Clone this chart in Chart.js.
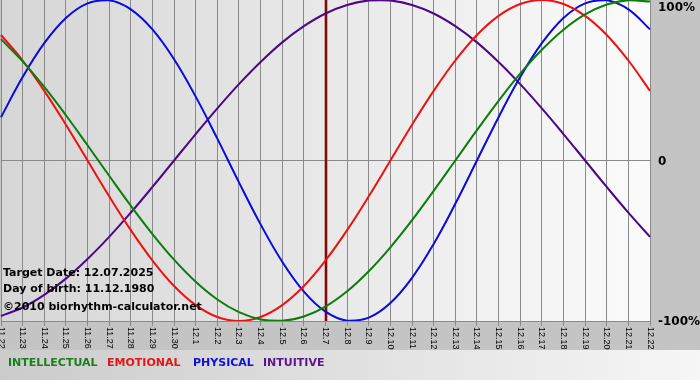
<!DOCTYPE html>
<html><head><meta charset="utf-8">
<script src="https://cdn.jsdelivr.net/npm/chart.js@4.4.1/dist/chart.umd.min.js"></script>
<style>html,body{margin:0;padding:0;background:#fff;overflow:hidden}#wrap{width:700px;height:380px;position:relative}</style>
</head><body><div id="wrap"><canvas id="c" width="700" height="380"></canvas></div>
<script>
const categories = ['11.22','11.23','11.24','11.25','11.26','11.27','11.28','11.29','11.30',
  '12.1','12.2','12.3','12.4','12.5','12.6','12.7','12.8','12.9','12.10','12.11','12.12','12.13',
  '12.14','12.15','12.16','12.17','12.18','12.19','12.20','12.21','12.22'];
const intellectual = [75.6, 61.8, 45.8, 28.2, 9.5, -9.5, -28.2, -45.8, -61.8, -75.6, -86.6, -94.5, -99.0, -99.9, -97.2, -91.0, -81.5, -69.0, -54.1, -37.2, -18.9, 0, 18.9, 37.2, 54.1, 69.0, 81.5, 91.0, 97.2, 99.9, 99.0];
const emotional = [78.2, 62.3, 43.4, 22.3, 0, -22.3, -43.4, -62.3, -78.2, -90.1, -97.5, -100, -97.5, -90.1, -78.2, -62.3, -43.4, -22.3, 0, 22.3, 43.4, 62.3, 78.2, 90.1, 97.5, 100, 97.5, 90.1, 78.2, 62.3, 43.4];
const physical = [27.0, 52.0, 73.1, 88.8, 97.9, 99.8, 94.2, 81.7, 63.1, 39.8, 13.6, -13.6, -39.8, -63.1, -81.7, -94.2, -99.8, -97.9, -88.8, -73.1, -52.0, -27.0, 0, 27.0, 52.0, 73.1, 88.8, 97.9, 99.8, 94.2, 81.7];
const intuitive = [-96.9, -91.6, -83.7, -73.6, -61.4, -47.6, -32.5, -16.5, 0, 16.5, 32.5, 47.6, 61.4, 73.6, 83.7, 91.6, 96.9, 99.7, 99.7, 96.9, 91.6, 83.7, 73.6, 61.4, 47.6, 32.5, 16.5, 0, -16.5, -32.5, -47.6];
const yTicks = [100, 0, -100];
const yTickLabels = ['100%', '0', '-100%'];
const targetDate = '12.7';
const seriesNames = ['INTELLECTUAL', 'EMOTIONAL', 'PHYSICAL', 'INTUITIVE'];
const infoLines = ['Target Date: 12.07.2025', 'Day of birth: 11.12.1980', '\u00a92010 biorhythm-calculator.net'];

const lineColors = ['#0a7d0a', '#ee1111', '#0a0adc', '#4b0a82'];
const legendColors = ['#1a7f1a', '#e51515', '#1010d8', '#5a168a'];
const legendX = [8, 107, 193, 263];
const infoBaselines = [276, 292, 310];

const bgPlugin = {
  id: 'bg',
  beforeDraw(chart) {
    const ctx = chart.ctx, a = chart.chartArea;
    ctx.save();
    ctx.fillStyle = '#c4c4c4';
    ctx.fillRect(0, 0, chart.width, chart.height);
    let g = ctx.createLinearGradient(0, 0, chart.width, 0);
    g.addColorStop(0, '#cbcbcb');
    g.addColorStop(1, '#f6f6f6');
    ctx.fillStyle = g;
    ctx.fillRect(0, 350, chart.width, chart.height - 350);
    g = ctx.createLinearGradient(a.left, 0, a.right, 0);
    g.addColorStop(0, '#d6d6d6');
    g.addColorStop(1, '#fbfbfb');
    ctx.fillStyle = g;
    ctx.fillRect(a.left, a.top, a.right - a.left, a.bottom - a.top);
    ctx.restore();
  },
  beforeDatasetsDraw(chart) {
    const ctx = chart.ctx, a = chart.chartArea, xs = chart.scales.x;
    const x = Math.round(xs.getPixelForValue(categories.indexOf(targetDate)));
    ctx.save();
    ctx.fillStyle = 'rgba(190,90,90,0.5)';
    ctx.fillRect(x - 2, a.top, 4, a.bottom - a.top);
    ctx.fillStyle = '#7a0c0c';
    ctx.fillRect(x - 1, a.top, 2, a.bottom - a.top);
    ctx.restore();
  },
  afterDraw(chart) {
    const ctx = chart.ctx, a = chart.chartArea, xs = chart.scales.x, ys = chart.scales.y;
    ctx.save();
    ctx.fillStyle = '#000';
    ctx.font = '9px "Liberation Sans", Arial, sans-serif';
    ctx.textAlign = 'left';
    ctx.textBaseline = 'middle';
    categories.forEach((lab, i) => {
      const x = xs.getPixelForValue(i);
      ctx.save();
      ctx.translate(x, a.bottom + 6);
      ctx.rotate(Math.PI / 2);
      ctx.fillText(lab, 0, 0);
      ctx.restore();
    });
    ctx.font = 'bold 12px "DejaVu Sans", Verdana, sans-serif';
    ctx.textBaseline = 'middle';
    yTicks.forEach((v, i) => {
      const y = Math.max(ys.getPixelForValue(v), 7) + 1;
      ctx.fillText(yTickLabels[i], a.right + 8, y);
    });
    ctx.font = 'bold 11px "DejaVu Sans", Verdana, sans-serif';
    ctx.textBaseline = 'alphabetic';
    infoLines.forEach((t, i) => ctx.fillText(t, 3, infoBaselines[i]));
    seriesNames.forEach((t, i) => {
      ctx.fillStyle = legendColors[i];
      ctx.fillText(t, legendX[i], 366);
    });
    ctx.restore();
  }
};

const mk = (label, data, color) => ({
  label, data, borderColor: color, backgroundColor: color,
  borderWidth: 2, pointRadius: 0, tension: 0.4, fill: false
});

new Chart(document.getElementById('c'), {
  type: 'line',
  data: {
    labels: categories,
    datasets: [
      mk(seriesNames[0], intellectual, lineColors[0]),
      mk(seriesNames[1], emotional, lineColors[1]),
      mk(seriesNames[2], physical, lineColors[2]),
      mk(seriesNames[3], intuitive, lineColors[3])
    ]
  },
  options: {
    responsive: false,
    animation: false,
    layout: { padding: { left: 1, top: 0, right: 0, bottom: 0 } },
    plugins: { legend: { display: false }, tooltip: { enabled: false } },
    scales: {
      x: {
        type: 'category',
        offset: false,
        ticks: { display: false },
        grid: { color: '#8a8a8a', lineWidth: 1, drawTicks: true, tickLength: 5, tickColor: '#8a8a8a' },
        border: { display: true, color: '#8a8a8a' },
        afterFit(s) { s.height = 59; }
      },
      y: {
        position: 'right',
        min: -100, max: 100,
        ticks: { display: false, stepSize: 100 },
        grid: { drawTicks: false, color: c => (c.tick && c.tick.value === 0) ? '#8a8a8a' : 'rgba(0,0,0,0)' },
        border: { display: false },
        afterFit(s) { s.width = 50; s.paddingTop = 0; s.paddingBottom = 0; }
      }
    }
  },
  plugins: [bgPlugin]
});
</script>
</body></html>
